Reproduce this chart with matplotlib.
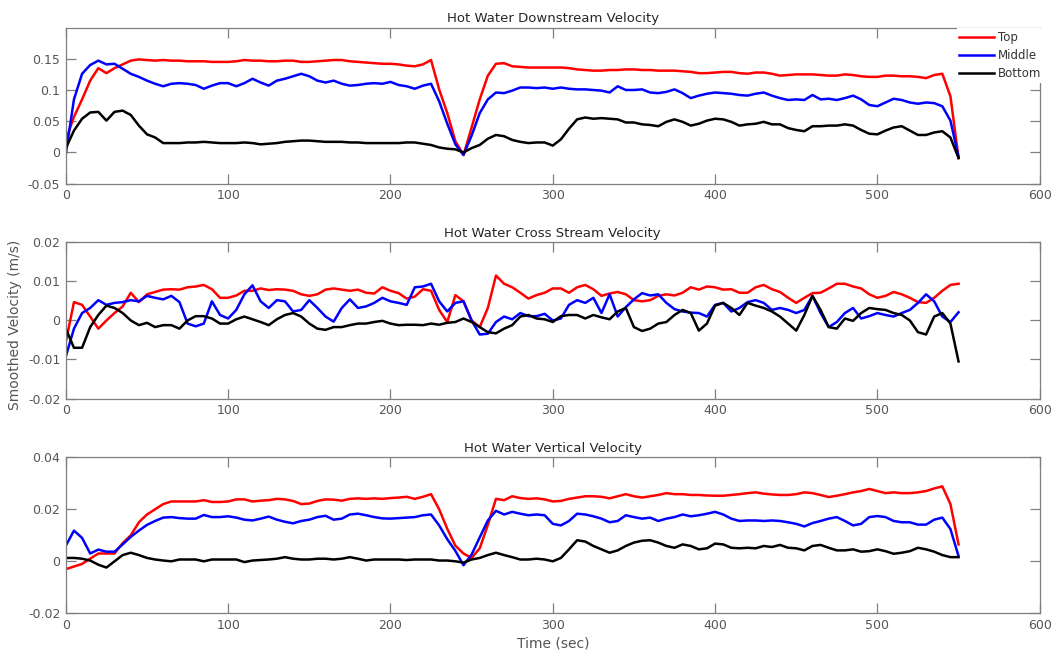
import numpy as np
import matplotlib
matplotlib.use('Agg')
import matplotlib.pyplot as plt

# time axis (sec), one sample every 5 s
time_s = np.arange(0, 551, 5)

# Downstream velocity (m/s)
ds_top = [0.020, 0.057, 0.085, 0.115, 0.135, 0.127, 0.135, 0.141, 0.147, 0.149,
          0.148, 0.147, 0.148, 0.147, 0.147, 0.146, 0.146, 0.146, 0.145, 0.145,
          0.145, 0.146, 0.148, 0.147, 0.147, 0.146, 0.146, 0.147, 0.147, 0.145,
          0.145, 0.146, 0.147, 0.148, 0.148, 0.146, 0.145, 0.144, 0.143, 0.142,
          0.142, 0.141, 0.139, 0.138, 0.141, 0.148, 0.101, 0.063, 0.018, -0.004,
          0.040, 0.085, 0.123, 0.142, 0.143, 0.138, 0.137, 0.136, 0.136, 0.136,
          0.136, 0.136, 0.135, 0.133, 0.132, 0.131, 0.131, 0.132, 0.132, 0.133,
          0.133, 0.132, 0.132, 0.131, 0.131, 0.131, 0.130, 0.129, 0.127, 0.127,
          0.128, 0.129, 0.129, 0.127, 0.126, 0.128, 0.128, 0.126, 0.123, 0.124,
          0.125, 0.125, 0.125, 0.124, 0.123, 0.123, 0.125, 0.124, 0.122, 0.121,
          0.121, 0.123, 0.123, 0.122, 0.122, 0.121, 0.119, 0.124, 0.126, 0.090,
          -0.009]
ds_mid = [-0.002, 0.085, 0.126, 0.140, 0.147, 0.141, 0.142, 0.134, 0.126, 0.121,
          0.115, 0.110, 0.106, 0.110, 0.111, 0.110, 0.108, 0.102, 0.107, 0.111,
          0.111, 0.106, 0.111, 0.118, 0.112, 0.107, 0.115, 0.118, 0.122, 0.126,
          0.122, 0.115, 0.112, 0.115, 0.110, 0.107, 0.108, 0.110, 0.111, 0.110,
          0.113, 0.108, 0.106, 0.102, 0.107, 0.110, 0.082, 0.046, 0.013, -0.004,
          0.027, 0.063, 0.085, 0.096, 0.095, 0.099, 0.104, 0.104, 0.103, 0.104,
          0.102, 0.104, 0.102, 0.101, 0.101, 0.100, 0.099, 0.096, 0.106, 0.100,
          0.100, 0.101, 0.096, 0.095, 0.097, 0.101, 0.095, 0.087, 0.091, 0.094,
          0.096, 0.095, 0.094, 0.092, 0.091, 0.094, 0.096, 0.091, 0.087, 0.084,
          0.085, 0.084, 0.092, 0.085, 0.086, 0.084, 0.087, 0.091, 0.085, 0.076,
          0.074, 0.080, 0.086, 0.084, 0.080, 0.078, 0.080, 0.079, 0.074, 0.051,
          -0.007]
ds_bot = [0.007, 0.035, 0.054, 0.064, 0.065, 0.051, 0.065, 0.067, 0.060, 0.043,
          0.029, 0.024, 0.015, 0.015, 0.015, 0.016, 0.016, 0.017, 0.016, 0.015,
          0.015, 0.015, 0.016, 0.015, 0.013, 0.014, 0.015, 0.017, 0.018, 0.019,
          0.019, 0.018, 0.017, 0.017, 0.017, 0.016, 0.016, 0.015, 0.015, 0.015,
          0.015, 0.015, 0.016, 0.016, 0.014, 0.012, 0.008, 0.006, 0.005, 0.000,
          0.007, 0.012, 0.022, 0.028, 0.026, 0.020, 0.017, 0.015, 0.016, 0.016,
          0.011, 0.021, 0.038, 0.053, 0.056, 0.054, 0.055, 0.054, 0.053, 0.048,
          0.048, 0.045, 0.044, 0.042, 0.049, 0.053, 0.049, 0.043, 0.046, 0.051,
          0.054, 0.053, 0.049, 0.043, 0.045, 0.046, 0.049, 0.045, 0.045, 0.039,
          0.036, 0.034, 0.042, 0.042, 0.043, 0.043, 0.045, 0.043, 0.036, 0.030,
          0.029, 0.035, 0.040, 0.042, 0.035, 0.028, 0.028, 0.032, 0.034, 0.024,
          -0.009]

# Cross stream velocity (m/s)
cs_top = [-0.0055, 0.0047, 0.0040, 0.0010, -0.0021, 0.0000, 0.0019, 0.0036, 0.0071, 0.0047,
          0.0067, 0.0073, 0.0079, 0.0080, 0.0079, 0.0085, 0.0087, 0.0091, 0.0080, 0.0058,
          0.0058, 0.0064, 0.0076, 0.0076, 0.0082, 0.0078, 0.0080, 0.0079, 0.0076, 0.0067,
          0.0063, 0.0067, 0.0079, 0.0082, 0.0079, 0.0076, 0.0079, 0.0071, 0.0069, 0.0085,
          0.0076, 0.0070, 0.0056, 0.0061, 0.0080, 0.0076, 0.0027, -0.0004, 0.0065, 0.0049,
          0.0000, -0.0017, 0.0032, 0.0115, 0.0094, 0.0085, 0.0071, 0.0056, 0.0065, 0.0071,
          0.0082, 0.0082, 0.0071, 0.0085, 0.0091, 0.0080, 0.0063, 0.0069, 0.0073, 0.0067,
          0.0052, 0.0049, 0.0052, 0.0063, 0.0067, 0.0064, 0.0071, 0.0085, 0.0079, 0.0087,
          0.0085, 0.0079, 0.0080, 0.0071, 0.0071, 0.0085, 0.0091, 0.0080, 0.0073, 0.0058,
          0.0045, 0.0058, 0.0070, 0.0071, 0.0082, 0.0094, 0.0094, 0.0087, 0.0082, 0.0067,
          0.0058, 0.0063, 0.0073, 0.0067, 0.0058, 0.0047, 0.0045, 0.0058, 0.0076, 0.0091,
          0.0094]
cs_mid = [-0.0092, -0.0021, 0.0019, 0.0032, 0.0052, 0.0040, 0.0045, 0.0047, 0.0052, 0.0049,
          0.0063, 0.0058, 0.0054, 0.0063, 0.0047, -0.0008, -0.0015, -0.0008, 0.0049, 0.0014,
          0.0005, 0.0027, 0.0067, 0.0090, 0.0049, 0.0032, 0.0052, 0.0049, 0.0023, 0.0027,
          0.0052, 0.0032, 0.0010, -0.0003, 0.0032, 0.0054, 0.0032, 0.0036, 0.0045, 0.0058,
          0.0049, 0.0045, 0.0040, 0.0085, 0.0087, 0.0094, 0.0049, 0.0023, 0.0045, 0.0049,
          0.0000, -0.0036, -0.0034, -0.0004, 0.0010, 0.0003, 0.0019, 0.0011, 0.0011, 0.0017,
          0.0000, 0.0005, 0.0040, 0.0052, 0.0045, 0.0058, 0.0019, 0.0067, 0.0010, 0.0034,
          0.0054, 0.0070, 0.0064, 0.0067, 0.0045, 0.0029, 0.0023, 0.0020, 0.0019, 0.0010,
          0.0040, 0.0045, 0.0023, 0.0032, 0.0047, 0.0052, 0.0045, 0.0027, 0.0032, 0.0027,
          0.0019, 0.0027, 0.0063, 0.0019, -0.0017, -0.0004, 0.0019, 0.0032, 0.0005, 0.0011,
          0.0019, 0.0014, 0.0010, 0.0019, 0.0027, 0.0045, 0.0067, 0.0049, 0.0010, -0.0004,
          0.0021]
cs_bot = [-0.0021, -0.0070, -0.0070, -0.0017, 0.0014, 0.0038, 0.0032, 0.0019, 0.0000, -0.0012,
          -0.0006, -0.0017, -0.0012, -0.0012, -0.0021, 0.0000, 0.0011, 0.0011, 0.0005, -0.0008,
          -0.0008, 0.0003, 0.0010, 0.0003, -0.0004, -0.0012, 0.0003, 0.0014, 0.0019, 0.0010,
          -0.0008, -0.0021, -0.0024, -0.0017, -0.0017, -0.0012, -0.0008, -0.0008, -0.0004, -0.0001,
          -0.0008, -0.0012, -0.0011, -0.0011, -0.0012, -0.0008, -0.0011, -0.0006, -0.0004, 0.0005,
          -0.0004, -0.0017, -0.0030, -0.0033, -0.0021, -0.0012, 0.0010, 0.0014, 0.0005, 0.0003,
          -0.0004, 0.0011, 0.0014, 0.0014, 0.0005, 0.0014, 0.0008, 0.0003, 0.0023, 0.0032,
          -0.0017, -0.0027, -0.0021, -0.0008, -0.0004, 0.0014, 0.0027, 0.0019, -0.0026, -0.0008,
          0.0038, 0.0045, 0.0032, 0.0014, 0.0045, 0.0038, 0.0032, 0.0023, 0.0010, -0.0008,
          -0.0026, 0.0014, 0.0063, 0.0027, -0.0017, -0.0021, 0.0005, -0.0001, 0.0019, 0.0032,
          0.0029, 0.0027, 0.0019, 0.0014, 0.0000, -0.0030, -0.0036, 0.0010, 0.0019, -0.0008,
          -0.0105]

# Vertical velocity (m/s)
vt_top = [-0.0030, -0.0020, -0.0010, 0.0010, 0.0030, 0.0030, 0.0030, 0.0070, 0.0100, 0.0150,
          0.0180, 0.0200, 0.0220, 0.0230, 0.0230, 0.0230, 0.0230, 0.0235, 0.0228, 0.0228,
          0.0230, 0.0238, 0.0238, 0.0230, 0.0233, 0.0235, 0.0240, 0.0238, 0.0232, 0.0220,
          0.0222, 0.0232, 0.0238, 0.0237, 0.0233, 0.0240, 0.0242, 0.0240, 0.0242, 0.0240,
          0.0243, 0.0245, 0.0248, 0.0240, 0.0248, 0.0258, 0.0200, 0.0125, 0.0060, 0.0030,
          0.0013, 0.0050, 0.0140, 0.0240, 0.0235, 0.0250, 0.0243, 0.0240, 0.0242, 0.0238,
          0.0230, 0.0232, 0.0240, 0.0245, 0.0250, 0.0250, 0.0248, 0.0242, 0.0250, 0.0258,
          0.0250, 0.0245, 0.0250, 0.0255, 0.0262, 0.0258, 0.0258, 0.0255, 0.0255, 0.0253,
          0.0252, 0.0252, 0.0255, 0.0258, 0.0262, 0.0265, 0.0260, 0.0257, 0.0255, 0.0255,
          0.0258, 0.0265, 0.0262, 0.0255, 0.0247, 0.0252, 0.0258, 0.0265, 0.0270, 0.0278,
          0.0270, 0.0262, 0.0265, 0.0262, 0.0262, 0.0265, 0.0270, 0.0280, 0.0288, 0.0220,
          0.0065]
vt_mid = [0.0060, 0.0118, 0.0090, 0.0030, 0.0045, 0.0037, 0.0037, 0.0065, 0.0094, 0.0118,
          0.0140, 0.0155, 0.0168, 0.0170, 0.0166, 0.0164, 0.0164, 0.0178, 0.0170, 0.0170,
          0.0173, 0.0168, 0.0160, 0.0157, 0.0164, 0.0172, 0.0160, 0.0152, 0.0146, 0.0155,
          0.0160, 0.0170, 0.0175, 0.0160, 0.0164, 0.0180, 0.0183, 0.0177, 0.0170, 0.0165,
          0.0164, 0.0166, 0.0168, 0.0170, 0.0177, 0.0180, 0.0138, 0.0085, 0.0040, -0.0015,
          0.0026, 0.0092, 0.0157, 0.0194, 0.0180, 0.0190, 0.0183, 0.0177, 0.0180, 0.0177,
          0.0144, 0.0138, 0.0155, 0.0183, 0.0180, 0.0173, 0.0164, 0.0150, 0.0155, 0.0177,
          0.0170, 0.0164, 0.0168, 0.0155, 0.0164, 0.0170, 0.0180, 0.0173, 0.0177, 0.0183,
          0.0190, 0.0180, 0.0164, 0.0155, 0.0157, 0.0157, 0.0155, 0.0157, 0.0155, 0.0150,
          0.0144, 0.0134, 0.0147, 0.0155, 0.0164, 0.0170, 0.0155, 0.0138, 0.0144, 0.0170,
          0.0174, 0.0170, 0.0155, 0.0150, 0.0150, 0.0141, 0.0141, 0.0160, 0.0168, 0.0124,
          0.0020]
vt_bot = [0.0013, 0.0013, 0.0010, 0.0003, -0.0013, -0.0024, 0.0000, 0.0024, 0.0033, 0.0024,
          0.0013, 0.0007, 0.0003, 0.0000, 0.0007, 0.0007, 0.0007, 0.0000, 0.0007, 0.0007,
          0.0007, 0.0007, -0.0003, 0.0003, 0.0005, 0.0007, 0.0010, 0.0016, 0.0010, 0.0007,
          0.0007, 0.0010, 0.0010, 0.0007, 0.0010, 0.0016, 0.0010, 0.0003, 0.0007, 0.0007,
          0.0007, 0.0007, 0.0005, 0.0007, 0.0007, 0.0007, 0.0003, 0.0003, 0.0000, -0.0005,
          0.0007, 0.0013, 0.0024, 0.0033, 0.0024, 0.0016, 0.0007, 0.0007, 0.0010, 0.0007,
          0.0000, 0.0013, 0.0046, 0.0081, 0.0076, 0.0059, 0.0046, 0.0033, 0.0042, 0.0059,
          0.0072, 0.0079, 0.0081, 0.0072, 0.0059, 0.0052, 0.0065, 0.0059, 0.0046, 0.0050,
          0.0068, 0.0065, 0.0052, 0.0050, 0.0052, 0.0050, 0.0059, 0.0055, 0.0063, 0.0052,
          0.0050, 0.0042, 0.0059, 0.0063, 0.0052, 0.0042, 0.0042, 0.0046, 0.0037, 0.0039,
          0.0046, 0.0039, 0.0029, 0.0033, 0.0039, 0.0052, 0.0046, 0.0037, 0.0024, 0.0016,
          0.0016]

series_names = ['Top', 'Middle', 'Bottom']
series_colors = ['red', 'blue', 'black']

panel_titles = ['Hot Water Downstream Velocity',
                'Hot Water Cross Stream Velocity',
                'Hot Water Vertical Velocity']
panel_data = [(ds_top, ds_mid, ds_bot), (cs_top, cs_mid, cs_bot), (vt_top, vt_mid, vt_bot)]
panel_ylim = [(-0.05, 0.2), (-0.02, 0.02), (-0.02, 0.04)]
panel_yticks = [[-0.05, 0, 0.05, 0.1, 0.15],
                [-0.02, -0.01, 0, 0.01, 0.02],
                [-0.02, 0, 0.02, 0.04]]
xticks = [0, 100, 200, 300, 400, 500, 600]

axis_grey = '#7f7f7f'
label_grey = '#555555'

plt.rcParams['font.family'] = ['DejaVu Sans']
plt.rcParams['font.size'] = 9

fig, axes = plt.subplots(3, 1, figsize=(10.62, 6.56), dpi=100)
fig.subplots_adjust(left=0.062, right=0.979, top=0.958, bottom=0.065, hspace=0.376)

for ax, title, data, ylim, yticks in zip(axes, panel_titles, panel_data, panel_ylim, panel_yticks):
    for values, name, color in zip(data, series_names, series_colors):
        ax.plot(time_s, values, color=color, linewidth=1.8, label=name)

    ax.set_xlim(0, 600)
    ax.set_ylim(*ylim)
    ax.set_xticks(xticks)
    ax.set_yticks(yticks)
    ax.set_yticklabels([f'{v:g}' for v in yticks])
    ax.set_title(title, fontsize=9.5, color='#262626', pad=4)

    # MATLAB style box with inward ticks on all sides
    ax.tick_params(direction='in', length=7, width=0.9, colors=axis_grey,
                   labelcolor=label_grey, labelsize=9, top=True, right=True, pad=4)
    for spine in ax.spines.values():
        spine.set_color(axis_grey)
        spine.set_linewidth(0.9)

# legend only on the first panel
leg = axes[0].legend(loc='upper right', bbox_to_anchor=(1.004, 0.995), frameon=True,
                     fancybox=False, edgecolor='none', facecolor='white', framealpha=1,
                     fontsize=8.5, handlelength=3.0, handletextpad=0.3, labelspacing=0.45,
                     borderpad=0.2, borderaxespad=0.0)
for text in leg.get_texts():
    text.set_color('#333333')

fig.text(0.014, 0.505, 'Smoothed Velocity (m/s)', rotation=90, va='center', ha='center',
         fontsize=10, color=label_grey)
axes[2].set_xlabel('Time (sec)', fontsize=10, color=label_grey, labelpad=3)

fig.savefig('out.png', dpi=100)
